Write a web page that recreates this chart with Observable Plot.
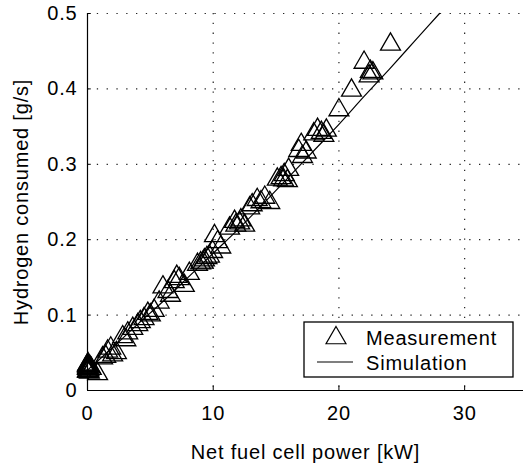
<!DOCTYPE html>
<html><head><meta charset="utf-8">
<script src="https://cdn.jsdelivr.net/npm/d3@7"></script>
<script src="https://cdn.jsdelivr.net/npm/@observablehq/plot@0.6"></script>
<style>body{margin:0;background:#fff}</style>
</head><body><div id="chart"></div>
<script>
// Measurement (triangles)
const measPower = [24.1,22.0,22.5,22.4,22.7,21.0,20.0,
  18.3,18.6,19.0,18.8,18.0,
  17.0,16.8,17.4,17.1,
  16.0,15.65,15.4,15.1,15.9,15.6,
  13.5,14.1,14.5,13.1,12.9,13.8,
  12.2,11.8,12.5,11.3,11.7,12.1,
  10.1,10.35,10.6,9.95,9.7,9.3,9.0,8.75,9.5,9.2,
  8.1,7.3,6.9,7.7,6.0,6.4,6.6,7.1,
  5.7,5.3,4.8,4.5,5.0,4.2,4.0,3.6,3.2,2.8,3.05,1.85,1.6,1.45,2.0,1.2,2.3,
  0,0,0.1,0,0.2,0.3,0.8,0.05,0.15,
  0,0,0.05,0,0.1,0,0.02,0.08];
const measH2 = [0.459,0.435,0.423,0.417,0.421,0.398,0.372,
  0.346,0.342,0.345,0.338,0.340,
  0.326,0.318,0.316,0.310,
  0.293,0.286,0.282,0.280,0.278,0.279,
  0.253,0.256,0.249,0.246,0.242,0.250,
  0.226,0.219,0.219,0.215,0.224,0.222,
  0.205,0.197,0.190,0.184,0.178,0.173,0.169,0.167,0.176,0.170,
  0.155,0.148,0.144,0.139,0.137,0.131,0.126,0.151,
  0.117,0.106,0.102,0.095,0.100,0.091,0.087,0.082,0.076,0.071,0.067,0.056,0.052,0.045,0.047,0.043,0.050,
  0.033,0.030,0.028,0.026,0.031,0.029,0.022,0.035,0.024,
  0.032,0.029,0.031,0.034,0.027,0.025,0.030,0.033];
// Simulation (line)
const simPower = [0,2,4,6,8,10,12,14,16,18,20,22,24,26,28];
const simH2 = [0.027,0.057,0.088,0.118,0.150,0.182,0.214,0.248,0.283,0.318,0.353,0.390,0.426,0.463,0.500];
// Ticks
const xTicks = [0,10,20,30];
const yTicks = [0,0.1,0.2,0.3,0.4,0.5];
const xGrid = [10,20,30];
const yGrid = [0.1,0.2,0.3,0.4,0.5];
const xLabel = "Net fuel cell power [kW]";
const yLabel = "Hydrogen consumed [g/s]";
const legendLabels = ["Measurement","Simulation"];

const meas = measPower.map((x,i)=>({x, y: measH2[i]}));
const sim = simPower.map((x,i)=>({x, y: simH2[i]}));

const W = 523, H = 464;
const font = "'Liberation Sans', Arial, Helvetica, sans-serif";
const dotted = {stroke:"#222", strokeOpacity:1, strokeWidth:1.2, strokeDasharray:"1.3,8.5"};

const plot = Plot.plot({
  width: W, height: H,
  marginLeft: 87, marginTop: 13, marginBottom: 74, marginRight: 0,
  style: {fontFamily: font, fontSize: "20px", color: "#000", background: "#fff", letterSpacing: "0.8px"},
  x: {domain: [0,35], range: [87, 527]},
  y: {domain: [0,0.5]},
  marks: [
    Plot.gridX(xGrid, dotted),
    Plot.gridY(yGrid, dotted),
    Plot.ruleX([0], {stroke:"#000", strokeWidth:1.2}),
    Plot.ruleY([0], {stroke:"#000", strokeWidth:1.2}),
    Plot.ruleX(xGrid, {y1:0, y2:0.006, stroke:"#000"}),
    Plot.ruleY(yGrid, {x1:0, x2:0.3, stroke:"#000"}),
    Plot.line(sim, {x:"x", y:"y", stroke:"#000", strokeWidth:1.2, curve:"monotone-x"}),
    Plot.dot(meas, {x:"x", y:"y", symbol:"triangle", r:7.4, stroke:"#000", strokeWidth:1.3, fill:"none"}),
    Plot.axisX({ticks: xTicks, tickSize: 0, tickPadding: 15, tickFormat: d => String(d),
      label: xLabel, labelAnchor: "center", labelArrow: "none", labelOffset: 68}),
    Plot.axisY({ticks: yTicks, tickSize: 0, tickPadding: 10, tickFormat: d => d === 0 ? "0" : d.toFixed(1),
      label: yLabel, labelAnchor: "center", labelArrow: "none", labelOffset: 74})
  ]
});
document.getElementById("chart").appendChild(plot);

// Legend box (inside the plot area, lower right)
const svg = d3.select(plot);
const lg = svg.append("g").attr("font-family", font).attr("font-size", 20)
  .attr("letter-spacing","0.8px").attr("text-anchor","start");
lg.append("rect").attr("x",304).attr("y",322).attr("width",209).attr("height",55)
  .attr("fill","#fff").attr("stroke","#000").attr("stroke-width",1.3);
lg.append("path").attr("d", d3.symbol(d3.symbolTriangle, Math.PI*7.4*7.4)())
  .attr("transform","translate(336,338)").attr("fill","none").attr("stroke","#000").attr("stroke-width",1.2);
lg.append("text").attr("x",366).attr("y",345).text(legendLabels[0]);
lg.append("line").attr("x1",317).attr("x2",353).attr("y1",362).attr("y2",362).attr("stroke","#000").attr("stroke-width",1.2);
lg.append("text").attr("x",366).attr("y",370).text(legendLabels[1]);
</script>
</body></html>
